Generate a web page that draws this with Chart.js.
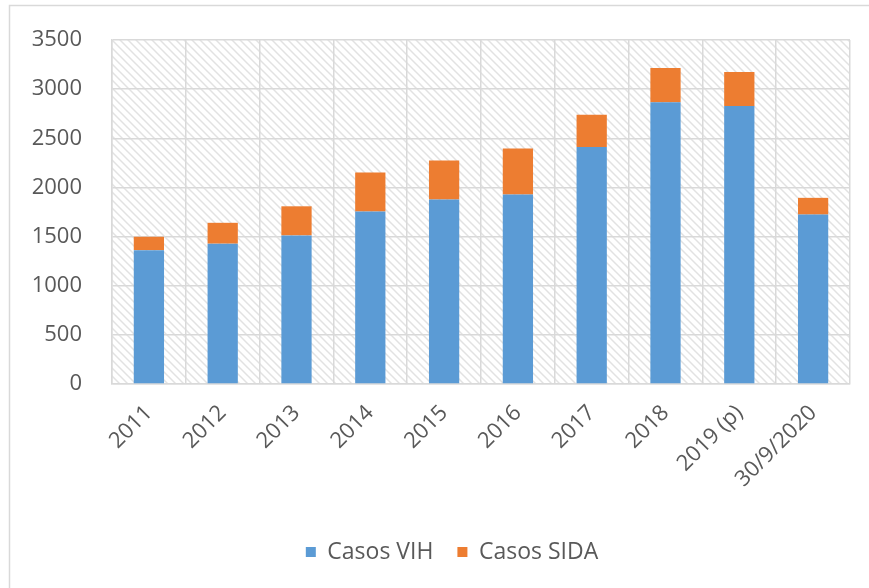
<!DOCTYPE html>
<html>
<head>
<meta charset="utf-8">
<script src="https://cdn.jsdelivr.net/npm/chart.js@4"></script>
<style>
  html, body { margin: 0; padding: 0; background: #fff; }
  #chart { display: block; }
</style>
</head>
<body>
<canvas id="chart" width="869" height="588"></canvas>
<script>
// data
const years = ["2011", "2012", "2013", "2014", "2015", "2016", "2017", "2018", "2019 (p)", "30/9/2020"];
const casosVIH = [1362, 1428, 1512, 1756, 1876, 1927, 2412, 2866, 2828, 1724];
const casosSIDA = [136, 212, 296, 396, 398, 470, 328, 348, 346, 170];
const yTicks = [0, 500, 1000, 1500, 2000, 2500, 3000, 3500];

const textColor = "#595959";
const gridColor = "#d9d9d9";
const fontFamily = "'Open Sans', sans-serif";

// diagonal hatch for the plot area, like the excel fill
function makeHatch() {
  const c = document.createElement("canvas");
  c.width = 8;
  c.height = 8;
  const g = c.getContext("2d");
  g.strokeStyle = "#e2e2e2";
  g.lineWidth = 1.5;
  g.beginPath();
  g.moveTo(-2, -2); g.lineTo(10, 10);
  g.moveTo(-2, 6); g.lineTo(2, 10);
  g.moveTo(6, -2); g.lineTo(10, 2);
  g.stroke();
  return g.createPattern(c, "repeat");
}

const framePlugin = {
  id: "frame",
  afterLayout(chart) {
    // legend sits a bit right of centre in the original
    const lg = chart.legend;
    lg.left += 27;
    lg.right += 27;
    lg.adjustHitBoxes();
  },
  beforeDraw(chart) {
    const { ctx, chartArea: a } = chart;
    ctx.save();
    ctx.fillStyle = "#fff";
    ctx.fillRect(0, 0, chart.width, chart.height);
    // outer chart border (only top and left show)
    ctx.strokeStyle = "#d9d9d9";
    ctx.lineWidth = 1.5;
    ctx.strokeRect(9.5, 5.5, chart.width + 20, chart.height + 20);
    ctx.fillStyle = makeHatch();
    ctx.fillRect(a.left, a.top, a.right - a.left, a.bottom - a.top);
    ctx.restore();
  }
};

new Chart(document.getElementById("chart"), {
  type: "bar",
  data: {
    labels: years,
    datasets: [
      { label: "Casos VIH", data: casosVIH, backgroundColor: "#5b9bd5" },
      { label: "Casos SIDA", data: casosSIDA, backgroundColor: "#ed7d31" }
    ]
  },
  options: {
    responsive: false,
    animation: false,
    devicePixelRatio: 1,
    layout: { padding: { top: 40, right: 19, left: 0, bottom: 14.5 } },
    datasets: { bar: { categoryPercentage: 1, barPercentage: 0.41 } },
    plugins: {
      legend: {
        position: "bottom",
        labels: {
          color: textColor,
          font: { family: fontFamily, size: 23 },
          boxWidth: 10,
          boxHeight: 10,
          padding: 24
        }
      },
      tooltip: { enabled: false }
    },
    scales: {
      x: {
        stacked: true,
        grid: { color: gridColor, lineWidth: 1.5, drawTicks: false, offset: true },
        border: { color: gridColor, width: 1.5 },
        ticks: {
          color: textColor,
          font: { family: fontFamily, size: 22 },
          maxRotation: 45,
          minRotation: 45,
          padding: 16,
          autoSkip: false
        },
        afterFit(scale) { scale.height = 132.5; }
      },
      y: {
        stacked: true,
        min: 0,
        max: 3500,
        afterBuildTicks(scale) { scale.ticks = yTicks.map(v => ({ value: v })); },
        // invisible tick marks keep the labels away from the axis
        grid: { color: gridColor, lineWidth: 1.5, drawTicks: true, tickLength: 26, tickColor: "rgba(0,0,0,0)" },
        border: { color: gridColor, width: 1.5 },
        ticks: {
          color: textColor,
          font: { family: fontFamily, size: 22 },
          padding: 4,
          callback: v => String(v)
        },
        afterFit(scale) { scale.width = 112; }
      }
    }
  },
  plugins: [framePlugin]
});
</script>
</body>
</html>
